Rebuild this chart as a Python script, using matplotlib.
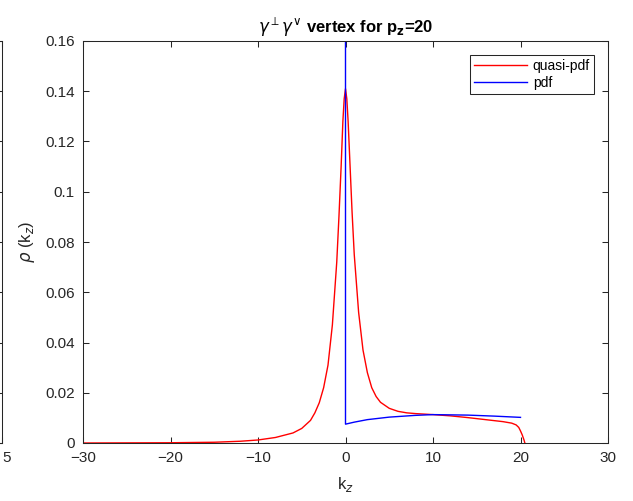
import numpy as np
import matplotlib
matplotlib.use('Agg')
import matplotlib.pyplot as plt

# quasi-pdf (red)
kq = [-30, -20, -15, -12, -10, -8, -6, -5, -4, -3.5, -3, -2.5, -2, -1.5, -1,
      -0.75, -0.5, -0.3, -0.15, 0, 0.15, 0.3, 0.5, 0.75, 1, 1.5, 2, 2.5, 3,
      3.5, 4, 5, 6, 7, 8, 10, 12, 14, 16, 18, 19, 19.5, 19.8, 20, 20.2, 20.4,
      20.5]
rq = [0.0, 0.0001, 0.0003, 0.0007, 0.0012, 0.0022, 0.004, 0.0058, 0.009,
      0.012, 0.016, 0.022, 0.031, 0.047, 0.072,
      0.09, 0.11, 0.128, 0.137, 0.141, 0.137, 0.128, 0.112, 0.092, 0.075,
      0.052, 0.037, 0.028, 0.022, 0.0185, 0.0162, 0.0138, 0.0126,
      0.012, 0.0117, 0.0113, 0.0108, 0.0101, 0.0093, 0.0085, 0.0079, 0.0072,
      0.0062, 0.0048, 0.0032, 0.0012, 0.0]

# pdf (blue): spike at k=0 then smooth part
kp = [0, 0, 1, 2.5, 5, 8, 10, 14, 17, 20]
rp = [0.5, 0.0075, 0.0083, 0.0093, 0.0103, 0.0110, 0.0113, 0.0111, 0.0107, 0.0102]

yticks = [0, 0.02, 0.04, 0.06, 0.08, 0.1, 0.12, 0.14, 0.16]
xticks = [-30, -20, -10, 0, 10, 20, 30]

plt.rcParams['font.family'] = ['Liberation Sans', 'DejaVu Sans']
plt.rcParams['mathtext.fontset'] = 'dejavusans'
grey = '#262626'

fig = plt.figure(figsize=(6.33, 5.01), dpi=100)

pos = [83 / 633, 58 / 501, 525 / 633, 402 / 501]

# leftover neighbouring axes, only its right edge shows
ax0 = fig.add_axes([2 / 633 - pos[2], pos[1], pos[2], pos[3]])
ax0.set_xlim(-25, 25)
ax0.set_ylim(0, 0.16)
ax0.set_xticks([25])
ax0.set_xticklabels(['5'], ha='left')
ax0.set_yticks(yticks)
ax0.tick_params(direction='in', right=True, top=True, length=4, width=0.75,
                colors=grey, labelsize=11, labelleft=False, pad=6)
for s in ax0.spines.values():
    s.set_color(grey)
    s.set_linewidth(0.75)

ax = fig.add_axes(pos)
ax.plot(kq, rq, color='red', lw=1.0, label='quasi-pdf')
ax.plot(kp, rp, color='blue', lw=1.0, label='pdf')
ax.set_xlim(-30, 30)
ax.set_ylim(0, 0.16)
ax.set_xticks(xticks)
ax.set_yticks(yticks)
ax.set_yticklabels(['%g' % v for v in yticks])
ax.tick_params(direction='in', right=True, top=True, length=4, width=0.75,
               colors=grey, labelsize=11, pad=6)
for s in ax.spines.values():
    s.set_color(grey)
    s.set_linewidth(0.75)

ax.set_xlabel(r'k$_z$', fontsize=12, color=grey, labelpad=7)
ax.set_ylabel(r'$\rho$ (k$_z$)', fontsize=12, color=grey, labelpad=6)
ax.set_title(r'$\gamma^{\perp}\gamma^{\vee}$ vertex for p$_\mathbf{z}$=20',
             fontsize=12, fontweight='bold', color='black', pad=6)

leg = ax.legend(loc='upper right', fontsize=10, fancybox=False,
                handlelength=3.8, handletextpad=0.4, borderaxespad=1.0,
                framealpha=1, borderpad=0.3, labelspacing=0.2)
leg.get_frame().set_edgecolor(grey)
leg.get_frame().set_linewidth(0.75)

fig.savefig('out.png', dpi=100)
